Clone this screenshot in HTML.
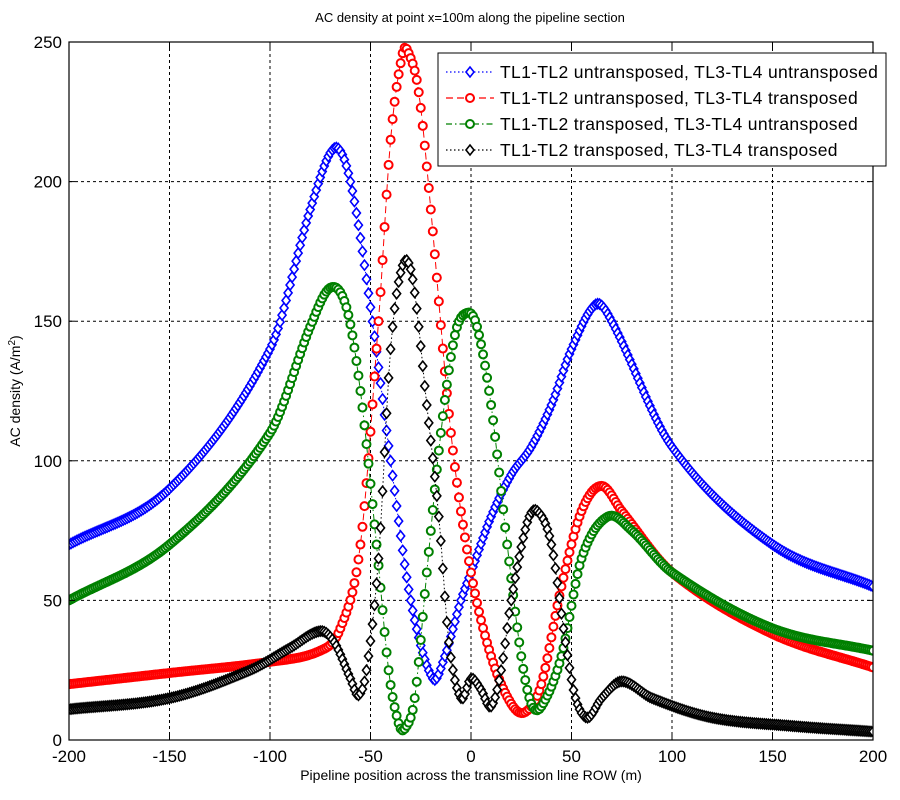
<!DOCTYPE html>
<html><head><meta charset="utf-8"><style>
body{margin:0;background:#fff;}
svg{display:block;font-family:"Liberation Sans",Arial,sans-serif;}
</style></head><body>
<svg id="s" width="900" height="800" xmlns="http://www.w3.org/2000/svg">
<rect width="900" height="800" fill="#fff"/>
<text x="470" y="22" font-size="13" text-anchor="middle">AC density at point x=100m along the pipeline section</text>
<g id="grid" stroke="#000" stroke-width="1" stroke-dasharray="3,3"></g>
<clipPath id="cp"><rect x="69" y="38" width="804" height="702"/></clipPath>
<g id="data" clip-path="url(#cp)"></g>
<rect x="69" y="42" width="804" height="698" fill="none" stroke="#000" stroke-width="1.2"/>
<g id="ticks" font-size="17"></g>
<text x="471" y="780" font-size="14" text-anchor="middle">Pipeline position across the transmission line ROW (m)</text>
<text transform="translate(20,391) rotate(-90)" font-size="14" text-anchor="middle">AC density (A/m<tspan baseline-shift="super" font-size="10">2</tspan>)</text>
<g id="leg">
<rect x="438" y="53" width="448" height="113" fill="#fff" stroke="#000" stroke-width="1"/>
<g font-size="17.5" letter-spacing="0.35">
<text x="500" y="78">TL1-TL2 untransposed, TL3-TL4 untransposed</text>
<text x="500" y="104">TL1-TL2 untransposed, TL3-TL4 transposed</text>
<text x="500" y="130">TL1-TL2 transposed, TL3-TL4 untransposed</text>
<text x="500" y="156">TL1-TL2 transposed, TL3-TL4 transposed</text>
</g>
</g>
</svg>
<script>
var NS="http://www.w3.org/2000/svg";
function X(v){return 69+(v+200)*804/400;}
function Y(v){return 740-v*698/250;}
function el(t,a,p){var e=document.createElementNS(NS,t);for(var k in a)e.setAttribute(k,a[k]);p.appendChild(e);return e;}
var g=document.getElementById('grid'),tk=document.getElementById('ticks');
for(var v=-150;v<=150;v+=50)el('line',{x1:X(v),x2:X(v),y1:42,y2:740},g);
for(var v=50;v<=200;v+=50)el('line',{x1:69,x2:873,y1:Y(v),y2:Y(v)},g);
for(var v=-200;v<=200;v+=50){var t=el('text',{x:X(v),y:762,'text-anchor':'middle'},tk);t.textContent=v;
 el('line',{x1:X(v),x2:X(v),y1:740,y2:734,stroke:'#000'},tk);el('line',{x1:X(v),x2:X(v),y1:42,y2:48,stroke:'#000'},tk);}
for(var v=0;v<=250;v+=50){var t=el('text',{x:62,y:Y(v)+6,'text-anchor':'end'},tk);t.textContent=v;
 el('line',{x1:69,x2:75,y1:Y(v),y2:Y(v),stroke:'#000'},tk);el('line',{x1:873,x2:867,y1:Y(v),y2:Y(v),stroke:'#000'},tk);}
var S=[
{c:'#0000ff',m:'d',da:'1.5,2.5',p:[[-200,70],[-150,90],[-100,140],[-80,190],[-68,212],[-60,200],[-50,155],[-40,100],[-30,50],[-19,22],[-13,30],[-5,50],[0,60],[10,80],[20,95],[30,105],[40,120],[50,140],[62,156],[70,150],[100,105],[150,70],[200,55]]},
{c:'#ff0000',m:'o',da:'7,4',p:[[-200,20],[-150,24],[-100,28],[-75,32],[-65,40],[-55,70],[-46,150],[-40,215],[-34,246],[-31,246],[-26,232],[-20,190],[-10,110],[0,60],[10,30],[20,13],[27,10],[35,20],[45,55],[55,82],[65,91],[75,82],[100,60],[150,38],[200,26]]},
{c:'#008000',m:'o',da:'6,3,1.5,3',p:[[-200,50],[-150,70],[-100,110],[-80,148],[-70,162],[-62,155],[-55,125],[-47,70],[-41,25],[-36,6],[-33,4],[-28,15],[-22,60],[-15,110],[-8,145],[-2,153],[3,148],[10,120],[18,70],[25,30],[30,13],[35,12],[45,30],[55,65],[68,80],[80,75],[100,60],[150,40],[200,32]]},
{c:'#000000',m:'d',da:'1.5,2.5',p:[[-200,11],[-150,15],[-110,25],[-90,33],[-75,39],[-68,35],[-60,22],[-56,16],[-52,25],[-46,65],[-40,140],[-34,170],[-29,165],[-22,120],[-16,80],[-11,35],[-5,15],[0,22],[5,18],[10,12],[15,25],[20,50],[28,78],[33,82],[40,70],[47,35],[52,15],[58,8],[65,15],[75,21],[90,15],[120,8],[160,5],[200,3]]}
];
function interp(p,x){
 for(var i=0;i<p.length-1;i++){if(x<=p[i+1][0]){
  var p0=p[Math.max(i-1,0)],p1=p[i],p2=p[i+1],p3=p[Math.min(i+2,p.length-1)];
  var h=p2[0]-p1[0],t=(x-p1[0])/h;
  var m1=(p2[1]-p0[1])/(p2[0]-p0[0])*h,m2=(p3[1]-p1[1])/(p3[0]-p1[0])*h;
  var t2=t*t,t3=t2*t;
  return (2*t3-3*t2+1)*p1[1]+(t3-2*t2+t)*m1+(-2*t3+3*t2)*p2[1]+(t3-t2)*m2;}}
 return p[p.length-1][1];}
var d=document.getElementById('data');
function marker(s,x,y,par){
 if(s.m=='d')el('path',{d:'M'+x+','+(y-5)+'L'+(x+4)+','+y+'L'+x+','+(y+5)+'L'+(x-4)+','+y+'Z',fill:'#fff',stroke:s.c,'stroke-width':1.6},par);
 else el('circle',{cx:x,cy:y,r:4,fill:'#fff',stroke:s.c,'stroke-width':2},par);}
S.forEach(function(s){
 var pts=[];for(var x=-200;x<=200;x+=1){pts.push([X(x),Y(Math.min(Math.max(interp(s.p,x),1),249))]);}
 el('polyline',{points:pts.map(function(q){return q[0].toFixed(1)+','+q[1].toFixed(1)}).join(' '),fill:'none',stroke:s.c,'stroke-width':1,'stroke-dasharray':s.da},d);
 pts.forEach(function(q){marker(s,q[0],q[1],d);});
});
var lg=document.getElementById('leg');
S.forEach(function(s,i){var y=72+26*i;
 el('line',{x1:446,x2:494,y1:y,y2:y,stroke:s.c,'stroke-width':1.2,'stroke-dasharray':s.da},lg);
 marker(s,470,y,lg);});
</script>
</body></html>
